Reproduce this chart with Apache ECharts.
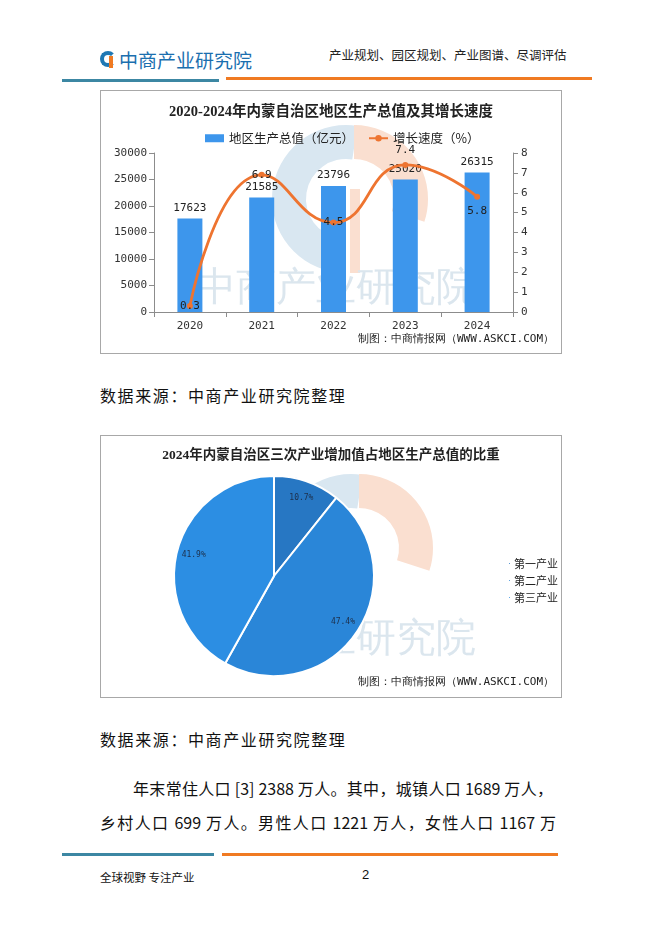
<!DOCTYPE html>
<html><head><meta charset="utf-8">
<script src="https://cdn.jsdelivr.net/npm/echarts@6/dist/echarts.min.js"></script>
<style>
html,body{margin:0;padding:0;background:#fff;}
body{width:662px;height:936px;position:relative;overflow:hidden;font-family:"Noto Sans CJK SC",sans-serif;}
.abs{position:absolute;white-space:nowrap;}
.box{position:absolute;border:1px solid #a8a8a8;box-sizing:border-box;background:#fff;}
.src{font-size:16px;color:#111;letter-spacing:1.6px;}
.para{font-size:16px;color:#111;}
</style></head><body>
<!-- header -->
<div class="abs" style="left:100px;top:50px;width:18px;height:18px;">
  <div style="position:absolute;left:0;top:1px;width:16px;height:16px;border-radius:50%;border:4px solid #1f78b4;box-sizing:border-box;border-right-color:transparent;"></div>
  <div style="position:absolute;left:9px;top:6px;width:4px;height:12px;background:#f07a22;"></div>
</div>
<div class="abs" style="left:119px;top:46px;font-size:19px;color:#1b6faf;">中商产业研究院</div>
<div class="abs" style="left:329px;top:45px;font-size:12.5px;color:#222;">产业规划、园区规划、产业图谱、尽调评估</div>
<div class="abs" style="left:62px;top:79px;width:157px;height:3px;background:#3c87a3;"></div>
<div class="abs" style="left:226px;top:77px;width:366px;height:3px;background:#f07a22;"></div>

<div class="box" style="left:100px;top:90px;width:462px;height:264px;"><div id="c1" style="width:460px;height:262px;"></div></div>
<div class="abs src" style="left:100px;top:383px;">数据来源：中商产业研究院整理</div>
<div class="box" style="left:100px;top:435px;width:462px;height:263px;"><div id="c2" style="width:460px;height:261px;"></div></div>
<div class="abs src" style="left:100px;top:727px;">数据来源：中商产业研究院整理</div>

<div class="abs para" style="left:133px;top:776px;width:420px;text-align:justify;text-align-last:justify;">年末常住人口 [3] 2388 万人。其中，城镇人口 1689 万人，</div>
<div class="abs para" style="left:100px;top:810px;width:456px;text-align:justify;text-align-last:justify;">乡村人口 699 万人。男性人口 1221 万人，女性人口 1167 万</div>

<div class="abs" style="left:62px;top:853px;width:152px;height:3px;background:#3c87a3;"></div>
<div class="abs" style="left:222px;top:853px;width:336px;height:3px;background:#f07a22;"></div>
<div class="abs" style="left:100px;top:869px;font-size:11.5px;color:#111;">全球视野 专注产业</div>
<div class="abs" style="left:362px;top:867px;font-size:13px;color:#111;font-family:'Liberation Sans',sans-serif;">2</div>

<script>
const years = ['2020','2021','2022','2023','2024'];
const gdp = [17623, 21585, 23796, 25020, 26315];
const growth = [0.3, 6.9, 4.5, 7.4, 5.8];
const growthLabelPos = ['inside','inside','inside','top','bottom'];
const leftTicks = {min:0, max:30000, interval:5000};
const rightTicks = {min:0, max:8, interval:1};
const industries = ['第一产业','第二产业','第三产业'];
const shares = [10.7, 47.4, 41.9];
const pieColors = ['#2777c3','#2a86d8','#2c8ee3'];

const mono = "'DejaVu Sans Mono','Liberation Mono',monospace";
const serifTitle = "'Liberation Serif','Noto Sans CJK SC',serif";

function watermark(cx, cy, tx, ty){
  return [
    {type:'sector', silent:true, z:-10, shape:{cx:cx, cy:cy, r:74, r0:40, startAngle:Math.PI*0.5, endAngle:Math.PI*1.55}, style:{fill:'#d9e7f1'}},
    {type:'sector', silent:true, z:-10, shape:{cx:cx+8, cy:cy, r:74, r0:40, startAngle:-Math.PI*0.5, endAngle:Math.PI*0.1}, style:{fill:'#fadfd0'}},
    {type:'rect', silent:true, z:-10, shape:{x:cx+4, y:cy-10, width:10, height:84}, style:{fill:'#fadfd0'}},
    {type:'text', silent:true, z:-10, left:tx, top:ty, style:{text:'中商产业研究院', fontSize:40, fill:'#dbe6ee', font:"bold 40px 'Noto Sans CJK SC'"}}
  ];
}

const c1 = echarts.init(document.getElementById('c1'));
c1.setOption({
  animation:false,
  graphic: watermark(245, 108, 95, 178).concat([
    {type:'text', right:7, top:243, style:{text:'制图：中商情报网（WWW.ASKCI.COM）', fontSize:11, fill:'#222', fontFamily:mono}}
  ]),
  title:{text:'2020-2024年内蒙自治区地区生产总值及其增长速度', left:'center', top:9,
    textStyle:{fontSize:14.5, fontWeight:'bold', color:'#222', fontFamily:serifTitle}},
  legend:{top:36, left:99, itemGap:14, itemWidth:19, itemHeight:8,
    textStyle:{fontSize:12.5, color:'#222', fontFamily:"'Noto Sans CJK SC'"},
    data:[{name:'地区生产总值（亿元）', icon:'rect'}, {name:'增长速度（%）'}]},
  grid:{left:53, right:48, top:62, bottom:41},
  xAxis:{type:'category', data:years,
    axisLine:{lineStyle:{color:'#8c8c8c'}}, axisTick:{show:true, length:5, lineStyle:{color:'#8c8c8c'}},
    axisLabel:{fontSize:11, color:'#333', fontFamily:mono, margin:9}},
  yAxis:[
    {type:'value', min:leftTicks.min, max:leftTicks.max, interval:leftTicks.interval, splitLine:{show:false},
      axisLine:{show:true, lineStyle:{color:'#8c8c8c'}}, axisTick:{show:true, length:5, lineStyle:{color:'#8c8c8c'}},
      axisLabel:{fontSize:11, color:'#333', fontFamily:mono, margin:7, formatter:v=>String(v)}},
    {type:'value', min:rightTicks.min, max:rightTicks.max, interval:rightTicks.interval, splitLine:{show:false},
      axisLine:{show:true, lineStyle:{color:'#8c8c8c'}}, axisTick:{show:true, length:5, lineStyle:{color:'#8c8c8c'}},
      axisLabel:{fontSize:11, color:'#333', fontFamily:mono, margin:8}}
  ],
  series:[
    {name:'地区生产总值（亿元）', type:'bar', data:gdp, barWidth:25, itemStyle:{color:'#3d96ec'},
      label:{show:true, position:'top', distance:5, fontSize:11, color:'#222', fontFamily:mono}},
    {name:'增长速度（%）', type:'line', yAxisIndex:1, smooth:0.5, symbol:'circle', symbolSize:6,
      lineStyle:{color:'#ee7430', width:2.8}, itemStyle:{color:'#ee7430'},
      data: growth.map((v,i)=>({value:v, label:{show:true, position:growthLabelPos[i], distance:6, fontSize:11, color:'#222', fontFamily:mono}}))}
  ]
});

const c2 = echarts.init(document.getElementById('c2'));
c2.setOption({
  animation:false,
  graphic: watermark(250, 112, 95, 184).concat([
    {type:'text', right:7, top:241, style:{text:'制图：中商情报网（WWW.ASKCI.COM）', fontSize:11, fill:'#222', fontFamily:mono}}
  ]),
  title:{text:'2024年内蒙自治区三次产业增加值占地区生产总值的比重', left:'center', top:8,
    textStyle:{fontSize:13.5, fontWeight:'bold', color:'#222', fontFamily:serifTitle}},
  legend:{orient:'vertical', left:401, top:117, itemGap:6, itemWidth:3, itemHeight:3, icon:'circle',
    textStyle:{fontSize:11, color:'#222', fontFamily:"'Noto Sans CJK SC'", padding:[0,0,0,-2]},
    data:industries},
  series:[
    {type:'pie', center:[173,140], radius:[0,100], startAngle:90, clockwise:true,
      itemStyle:{borderColor:'#fff', borderWidth:2},
      label:{show:false}, labelLine:{show:false},
      data: industries.map((n,i)=>({name:n, value:shares[i], itemStyle:{color:pieColors[i]}}))},
    {type:'pie', center:[173,140], radius:[60,100], startAngle:90, clockwise:true, silent:true,
      itemStyle:{color:'rgba(0,0,0,0)', borderWidth:0},
      label:{show:true, position:'inside', formatter:'{c}%', fontSize:8, color:'#1d2f4a', fontFamily:mono},
      labelLine:{show:false},
      data: industries.map((n,i)=>({name:n, value:shares[i]}))}
  ]
});
</script>
</body></html>
